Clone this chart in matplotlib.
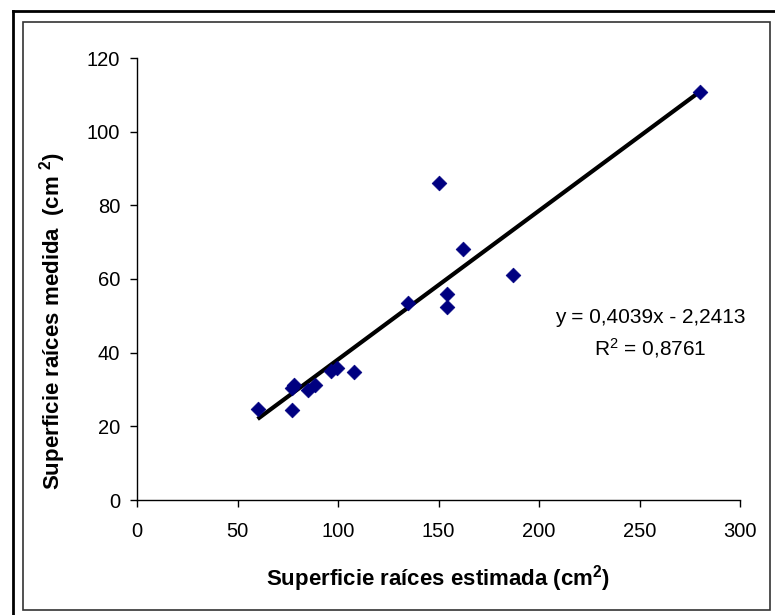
import matplotlib
matplotlib.use("Agg")
import matplotlib.pyplot as plt
from matplotlib.lines import Line2D
from matplotlib.patches import Rectangle

plt.rcParams['font.family'] = ['Liberation Sans', 'DejaVu Sans']
plt.rcParams['mathtext.fontset'] = 'custom'
plt.rcParams['mathtext.rm'] = 'Liberation Sans'
plt.rcParams['mathtext.it'] = 'Liberation Sans'
plt.rcParams['mathtext.bf'] = 'Liberation Sans:bold'

# Data
estimada = [60, 77, 77, 78, 85, 88.5, 96.5, 99.5, 108, 134.7, 150, 154, 154, 162, 187, 280]
medida = [24.6, 24.4, 30.5, 31.2, 29.9, 31.2, 35.0, 35.8, 34.7, 53.4, 86.0, 55.9, 52.5, 68.2, 61.0, 110.9]
slope = 0.4039
intercept = -2.2413
r2 = 0.8761
x_ticks = [0, 50, 100, 150, 200, 250, 300]
y_ticks = [0, 20, 40, 60, 80, 100, 120]

W, H = 775, 615
fig = plt.figure(figsize=(W / 100, H / 100), dpi=100)
ax = fig.add_axes([137 / W, 1 - 500 / H, (740 - 137) / W, (500 - 58) / H])

ax.scatter(estimada, medida, marker='D', s=7.5 ** 2, color='#000080',
           edgecolors='#000080', linewidths=0.5, zorder=3)
xl = [min(estimada), max(estimada)]
yl = [slope * v + intercept for v in xl]
ax.plot(xl, yl, color='black', lw=3.0, solid_capstyle='butt', zorder=2)

ax.set_xlim(0, 300)
ax.set_ylim(0, 120)
ax.set_xticks(x_ticks)
ax.set_yticks(y_ticks)
ax.spines['top'].set_visible(False)
ax.spines['right'].set_visible(False)
for s in ('left', 'bottom'):
    ax.spines[s].set_linewidth(1.0)
    ax.spines[s].set_color('black')
ax.tick_params(axis='both', direction='out', length=5, width=1.0, labelsize=14.5, colors='black')
ax.tick_params(axis='x', pad=11)
ax.tick_params(axis='y', pad=7)

ax.set_xlabel(r'Superficie raíces estimada (cm$^{\mathbf{2}}$)', fontsize=16, fontweight='bold', labelpad=16)
fig.text(53 / W, 1 - 321 / H, r'Superficie raíces medida  (cm $^{\mathbf{2}}$)', fontsize=16, fontweight='bold',
         rotation=90, ha='center', va='center')

sign = '-' if intercept < 0 else '+'
eq = f'y = {slope:.4f}x {sign} {abs(intercept):.4f}'.replace('.', ',')
rr = 'R$^{2}$ = ' + f'{r2:.4f}'.replace('.', ',')
ax.text(255.2, 49.5, eq, fontsize=15, ha='center', va='center')
ax.text(255.2, 41.3, rr, fontsize=15, ha='center', va='center')

# frames
fig.add_artist(Line2D([12.7 / W, 1.0], [1 - 11 / H, 1 - 11 / H], color='black', lw=2.0))
fig.add_artist(Line2D([12.7 / W, 12.7 / W], [1 - 11 / H, 0.0], color='black', lw=2.0))
fig.add_artist(Rectangle((23 / W, 1 - 610 / H), (770 - 23) / W, (610 - 22) / H,
                         fill=False, edgecolor='#333333', lw=1.2, transform=fig.transFigure))

fig.savefig('out.png', dpi=100)
